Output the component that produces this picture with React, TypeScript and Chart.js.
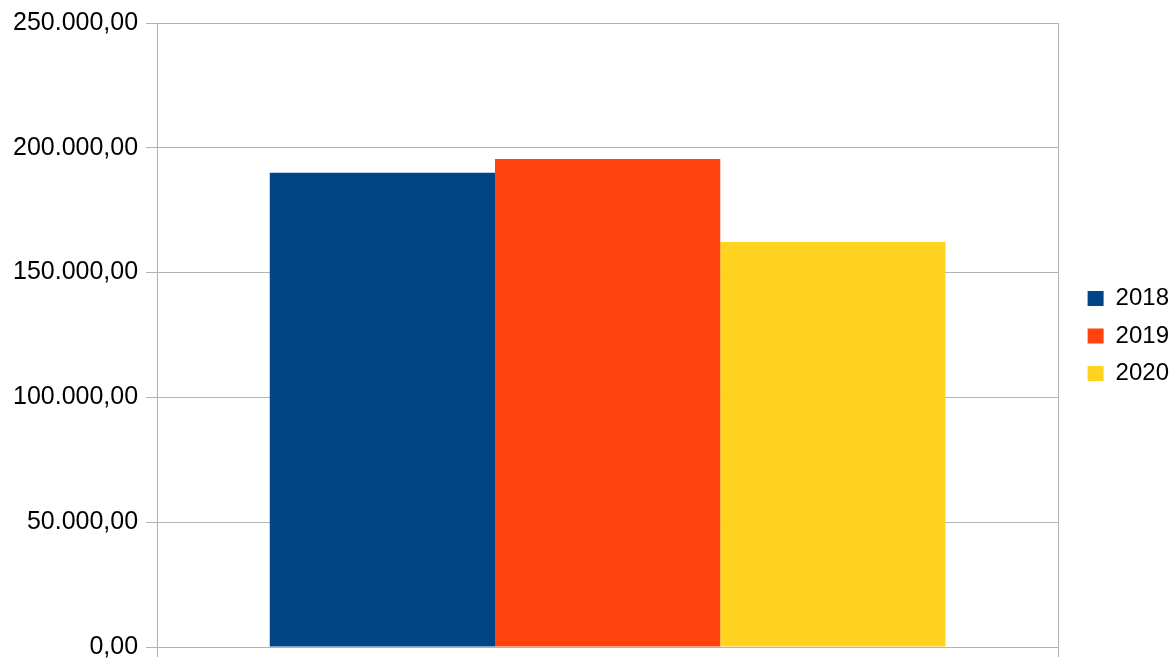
import React, { useEffect, useRef } from "react";
import { Chart, registerables } from "chart.js";

Chart.register(...registerables);

const categories = [""];
const seriesNames = ["2018", "2019", "2020"];
const values2018 = [190000];
const values2019 = [195500];
const values2020 = [162300];
const seriesColors = ["#004586", "#ff420e", "#ffd320"];
const yMin = 0;
const yMax = 250000;
const yStep = 50000;

function formatDE(v: number): string {
  const fixed = Math.abs(v).toFixed(2);
  const [intPart, dec] = fixed.split(".");
  const withDots = intPart.replace(/\B(?=(\d{3})+(?!\d))/g, ".");
  return (v < 0 ? "-" : "") + withDots + "," + dec;
}

export default function App() {
  const ref = useRef<HTMLCanvasElement | null>(null);
  useEffect(() => {
    if (!ref.current) return;
    const font = "'Liberation Sans', Arial, sans-serif";
    const grid = "#b3b3b3";
    const chart = new Chart(ref.current, {
      type: "bar",
      data: {
        labels: categories,
        datasets: [values2018, values2019, values2020].map((d, i) => ({
          label: seriesNames[i],
          data: d,
          backgroundColor: seriesColors[i],
          borderWidth: 0,
          categoryPercentage: 0.75,
          barPercentage: 1,
        })),
      },
      options: {
        responsive: false,
        animation: false,
        layout: { padding: { left: 5, top: 15, right: -5, bottom: 2 } },
        plugins: {
          tooltip: { enabled: false },
          legend: {
            position: "right",
            align: "center",
            labels: {
              boxWidth: 16,
              boxHeight: 15,
              padding: 13.5,
              color: "#000",
              font: { family: font, size: 24 },
            },
          },
        },
        scales: {
          x: {
            offset: true,
            grid: { color: grid, tickLength: 10, tickColor: grid },
            border: { display: true, color: grid },
            ticks: { display: false },
          },
          y: {
            min: yMin,
            max: yMax,
            ticks: {
              stepSize: yStep,
              color: "#000",
              padding: 8,
              font: { family: font, size: 25 },
              callback: (v: any) => formatDE(Number(v)),
            },
            grid: { color: grid, tickLength: 11, tickColor: grid },
            border: { display: true, color: grid },
            afterFit: (s: any) => {
              s.paddingBottom = 0;
            },
          },
          gap: {
            position: "right",
            display: true,
            grid: { display: false },
            border: { display: false },
            ticks: { display: false },
            afterFit: (s: any) => {
              s.width = 16;
            },
          } as any,
        },
      } as any,
    });
    return () => chart.destroy();
  }, []);
  return (
    <div style={{ position: "fixed", left: 0, top: 0, width: 1174, height: 659, background: "#fff" }}>
      <canvas ref={ref} width={1174} height={659} style={{ width: 1174, height: 659 }} />
    </div>
  );
}
